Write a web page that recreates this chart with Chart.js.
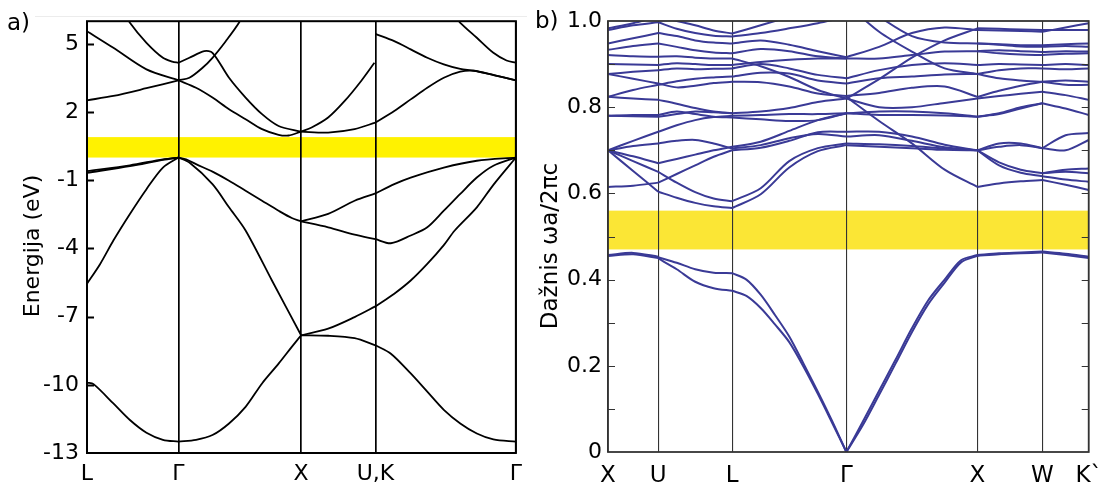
<!DOCTYPE html>
<html>
<head>
<meta charset="utf-8">
<script src="https://cdn.jsdelivr.net/npm/chart.js@4.4.0/dist/chart.umd.min.js"></script>
<style>
body{margin:0;background:#fff;width:1112px;height:491px;overflow:hidden;position:relative;font-family:"DejaVu Sans",sans-serif}
canvas{position:absolute;top:0}
#c1{left:0}
#c2{left:530px}
.lab{position:absolute;font-size:23px;line-height:1;color:#000}
#hair{position:absolute;left:35px;top:16px;width:492px;height:1px;background:#ececec}
</style>
</head>
<body>
<div id="hair"></div>
<canvas id="c1" width="530" height="491"></canvas>
<canvas id="c2" width="582" height="491"></canvas>
<div class="lab" style="left:7px;top:11px">a)</div>
<div class="lab" style="left:535px;top:9px">b)</div>
<script>
var FONT = '"DejaVu Sans", sans-serif';

// ---- a) elektronska pasovna struktura ----
var leftK = [0, 92.3, 216, 291, 432.7];
var leftKLabels = ['L', 'Γ', 'X', 'U,K', 'Γ'];
var leftTicks = [-13, -10, -7, -4, -1, 2, 5];
var leftGap = [0, 0.9];

// valencni pasovi [k, E]
var leftValence = [
  [[0,-9.9],[6.6,-9.97],[26.6,-10.82],[43.3,-11.55],[60,-12.11],[76.6,-12.42],[92.3,-12.5]],
  [[92.3,-12.5],[110,-12.42],[126.6,-12.21],[143.3,-11.7],[160,-10.97],[176.6,-9.94],[193.3,-9.07],[206.6,-8.33],[216,-7.82]],
  [[216,-7.82],[243.3,-7.84],[270,-7.95],[291,-8.26]],
  [[291,-8.26],[306.6,-8.63],[326.6,-9.5],[343.3,-10.3],[360,-11.1],[376.6,-11.7],[393.3,-12.14],[410,-12.4],[432.7,-12.5]],
  [[0,-5.55],[13.3,-4.68],[26.6,-3.65],[43.3,-2.48],[60,-1.39],[76.6,-0.44],[92.3,0]],
  [[92.3,0],[103.3,-0.22],[126.6,-1.17],[143.3,-2.19],[160,-3.21],[186.6,-5.41],[216,-7.82]],
  [[216,-7.82],[243.3,-7.53],[270,-7.02],[291,-6.55]],
  [[291,-6.55],[310,-5.99],[326.6,-5.41],[343.3,-4.68],[360,-3.85],[371,-3.21],[393.3,-2.19],[410,-1.2],[432.7,0]],
  [[0,-0.67],[43.3,-0.38],[76.6,-0.1],[92.3,0]],
  [[0,-0.6],[43.3,-0.34],[76.6,-0.08],[92.3,0]],
  [[92.3,0],[100,-0.08],[110,-0.29],[126.6,-0.62],[143.3,-1.02],[160,-1.46],[176.6,-1.9],[193.3,-2.34],[206.6,-2.66],[216,-2.81]],
  [[216,-2.81],[243.3,-3.07],[270,-3.39],[291,-3.59]],
  [[216,-2.81],[243.3,-2.48],[270,-1.9],[291,-1.58]],
  [[291,-3.59],[306.6,-3.77],[326.6,-3.43],[343.3,-3.07],[360,-2.34],[376.6,-1.6],[393.3,-0.88],[410,-0.36],[432.7,0]],
  [[291,-1.58],[310,-1.17],[326.6,-0.88],[360,-0.44],[393.3,-0.14],[432.7,0]]
];
// prevodni pasovi [k, E]
var leftConduction = [
  [[0,2.52],[26.6,2.71],[60,3.05],[92.3,3.4]],
  [[0,5.56],[26.6,4.83],[60,3.88],[92.3,3.4]],
  [[38,6.4],[43.3,5.93],[60,5.05],[76.6,4.39],[86,4.22],[92.3,4.17]],
  [[92.3,3.4],[110,3.07],[126.6,2.64],[143.3,2.13],[160,1.69],[176.6,1.25],[193.3,1.0],[203.3,0.97],[216,1.14]],
  [[92.3,4.17],[103.3,4.39],[118.3,4.68],[126.6,4.61],[143.3,3.51],[160,2.64],[176.6,1.91],[193.3,1.39],[216,1.14]],
  [[92.3,3.4],[103.3,3.51],[116.6,3.95],[126.6,4.39],[140,5.12],[153.3,5.93],[158,6.4]],
  [[216,1.14],[243.3,1.1],[270,1.25],[291,1.54]],
  [[216,1.14],[226.6,1.32],[243.3,1.76],[260,2.49],[276.6,3.37],[290,4.17]],
  [[291,1.54],[310,2.05],[326.6,2.56],[343.3,3.07],[360,3.51],[376.6,3.78],[390,3.82],[410,3.63],[432.7,3.4]],
  [[291,5.44],[310,5.12],[326.6,4.76],[343.3,4.39],[360,4.1],[376.6,3.9],[390,3.83],[410,3.64],[432.7,3.4]],
  [[366.6,6.4],[376.6,5.93],[393.3,5.27],[410,4.61],[423.3,4.27],[432.7,4.17]]
];

// ---- b) fotonska pasovna struktura ----
var rightK = [0, 51, 126, 242, 375, 441, 488];
var rightKLabels = ['X', 'U', 'L', 'Γ', 'X', 'W', 'K`'];
var rightTicks = [0, 0.1, 0.2, 0.3, 0.4, 0.5, 0.6, 0.7, 0.8, 0.9, 1.0];
var rightTickLabels = ['0', '', '0.2', '', '0.4', '', '0.6', '', '0.8', '', '1.0'];
var rightGap = [0.47, 0.56];

// vrednosti enakomerno vzorcene vzdolz vsakega odseka
var segXU = [
  [0.457,0.462,0.453],[0.455,0.459,0.450],
  [0.615,0.618,0.625],[0.700,0.652,0.604],[0.700,0.675,0.650],[0.700,0.686,0.670],
  [0.700,0.710,0.716],[0.700,0.722,0.743],[0.780,0.779,0.778],[0.780,0.782,0.782],
  [0.824,0.820,0.817],[0.824,0.840,0.852],[0.877,0.866,0.855],[0.877,0.882,0.886],
  [0.900,0.899,0.898],[0.921,0.918,0.917],[0.933,0.942,0.948],[0.948,0.960,0.972],
  [0.979,0.990,0.997],[0.983,0.995,1.01]
];
var segUL = [
  [0.452,0.439,0.424,0.416,0.415],[0.449,0.424,0.395,0.380,0.374],
  [0.604,0.590,0.578,0.570,0.566],[0.650,0.625,0.603,0.588,0.582],
  [0.625,0.645,0.665,0.685,0.700],[0.670,0.680,0.690,0.700,0.708],
  [0.716,0.722,0.724,0.716,0.704],[0.743,0.758,0.770,0.777,0.780],
  [0.778,0.784,0.790,0.788,0.786],[0.782,0.790,0.784,0.778,0.776],
  [0.817,0.808,0.798,0.790,0.786],[0.852,0.860,0.866,0.869,0.871],
  [0.855,0.846,0.850,0.856,0.859],[0.886,0.890,0.888,0.889,0.890],
  [0.898,0.902,0.900,0.898,0.898],[0.917,0.918,0.915,0.913,0.913],
  [0.948,0.940,0.932,0.927,0.925],[0.972,0.965,0.955,0.950,0.948],
  [0.997,0.982,0.972,0.966,0.964],[1.01,1.0,0.99,0.978,0.971]
];
var segLG = [
  [0.415,0.400,0.365,0.318,0.268,0.205,0.140,0.072,0.0],
  [0.374,0.362,0.334,0.296,0.255,0.198,0.135,0.068,0.0],
  [0.566,0.598,0.660,0.698,0.712],[0.582,0.612,0.675,0.705,0.716],
  [0.700,0.706,0.722,0.742,0.743],[0.704,0.712,0.728,0.738,0.732],
  [0.708,0.720,0.745,0.770,0.786],[0.776,0.772,0.768,0.770,0.786],
  [0.780,0.782,0.784,0.784,0.786],[0.786,0.790,0.798,0.812,0.820],
  [0.859,0.858,0.848,0.832,0.826],[0.871,0.880,0.878,0.862,0.855],
  [0.890,0.900,0.890,0.875,0.867],[0.898,0.905,0.910,0.913,0.913],
  [0.913,0.895,0.870,0.840,0.820],[0.925,0.935,0.930,0.918,0.913],
  [0.948,0.955,0.945,0.930,0.916],[0.964,0.972,0.983,0.995,1.01],
  [0.971,0.990,1.01,1.03,1.05]
];
var segGX = [
  [0,0.070,0.142,0.214,0.287,0.352,0.400,0.445,0.457],
  [0,0.062,0.133,0.205,0.278,0.343,0.393,0.440,0.455],
  [0.712,0.708,0.705,0.701,0.700],[0.716,0.714,0.710,0.704,0.700],
  [0.732,0.735,0.722,0.707,0.700],[0.743,0.743,0.732,0.713,0.700],
  [0.824,0.768,0.716,0.655,0.615],[0.786,0.790,0.790,0.786,0.778],
  [0.786,0.782,0.782,0.781,0.778],[0.820,0.800,0.800,0.810,0.820],
  [0.826,0.833,0.845,0.848,0.824],[0.855,0.867,0.871,0.876,0.877],
  [0.867,0.886,0.898,0.902,0.898],[0.913,0.913,0.921,0.929,0.930],
  [1.04,0.975,0.929,0.890,0.877],[1.06,1.01,0.965,0.950,0.948],
  [0.916,0.940,0.972,0.985,0.979],[0.820,0.865,0.915,0.955,0.983]
];
var segXW = [
  [0.457,0.461,0.463,0.465],[0.455,0.459,0.461,0.463],
  [0.615,0.623,0.628,0.631],[0.700,0.672,0.655,0.647],[0.700,0.665,0.648,0.640],
  [0.700,0.716,0.716,0.705],[0.700,0.708,0.712,0.705],[0.778,0.786,0.800,0.809],
  [0.778,0.784,0.797,0.809],[0.820,0.826,0.831,0.836],[0.824,0.838,0.850,0.859],
  [0.877,0.867,0.862,0.859],[0.877,0.886,0.890,0.890],[0.898,0.900,0.899,0.898],
  [0.930,0.925,0.922,0.921],[0.930,0.932,0.930,0.928],[0.948,0.946,0.944,0.944],
  [0.948,0.945,0.941,0.940],[0.979,0.978,0.977,0.975],[0.983,0.982,0.980,0.979]
];
var segWK = [
  [0.465,0.460,0.453],[0.463,0.457,0.450],
  [0.631,0.620,0.608],[0.640,0.632,0.627],[0.647,0.650,0.647],[0.647,0.655,0.658],
  [0.705,0.700,0.724],[0.705,0.735,0.740],[0.809,0.797,0.782],[0.836,0.828,0.817],
  [0.859,0.862,0.859],[0.859,0.852,0.852],[0.890,0.888,0.890],[0.898,0.900,0.898],
  [0.921,0.924,0.925],[0.928,0.930,0.929],[0.940,0.942,0.940],[0.944,0.946,0.948],
  [0.975,0.985,0.995],[0.979,0.979,0.979]
];
var rightSegments = [segXU, segUL, segLG, segGX, segXW, segWK];

// okvir, notranje oznake, naslov osi in pas prepovedanih energij
var framePlugin = {
  id: 'frame',
  beforeDraw: function(chart, args, o) {
    var ctx = chart.ctx, a = chart.chartArea, y = chart.scales.y;
    var y1 = y.getPixelForValue(o.gap[1]), y0 = y.getPixelForValue(o.gap[0]);
    ctx.save();
    ctx.fillStyle = o.gapColor;
    ctx.fillRect(a.left, y1, a.right - a.left, y0 - y1);
    ctx.restore();
  },
  afterDatasetsDraw: function(chart, args, o) {
    var ctx = chart.ctx, a = chart.chartArea, y = chart.scales.y;
    ctx.save();
    ctx.strokeStyle = o.color;
    ctx.lineWidth = o.tickWidth;
    ctx.beginPath();
    o.ticks.forEach(function(v) {
      var p = Math.round(y.getPixelForValue(v)) + 0.5;
      ctx.moveTo(a.left, p); ctx.lineTo(a.left + o.tickLen, p);
      if (o.right) { ctx.moveTo(a.right, p); ctx.lineTo(a.right - o.tickLen, p); }
    });
    ctx.stroke();
    ctx.lineWidth = o.width;
    ctx.strokeRect(a.left, a.top, a.right - a.left, a.bottom - a.top);
    // naslov y osi
    ctx.translate(o.title.x, o.title.y);
    ctx.rotate(-Math.PI / 2);
    ctx.fillStyle = '#000';
    ctx.font = o.title.size + 'px ' + FONT;
    ctx.textAlign = 'center';
    ctx.textBaseline = 'alphabetic';
    ctx.fillText(o.title.text, 0, 0);
    ctx.restore();
  }
};

function line(pts, color, w) {
  return {data: pts, borderColor: color, borderWidth: w, pointRadius: 0, tension: 0.3, fill: false};
}

var leftSets = [];
leftValence.concat(leftConduction).forEach(function(b) {
  leftSets.push(line(b.map(function(p) { return {x: p[0], y: p[1]}; }), '#000', 1.8));
});

var rightSets = [];
rightSegments.forEach(function(seg, s) {
  var k0 = rightK[s], k1 = rightK[s + 1];
  seg.forEach(function(vals) {
    var pts = vals.map(function(v, i) { return {x: k0 + i * (k1 - k0) / (vals.length - 1), y: v}; });
    rightSets.push(line(pts, '#3a3a96', 2));
  });
});

new Chart(document.getElementById('c1'), {
  type: 'line',
  data: {datasets: leftSets},
  plugins: [framePlugin],
  options: {
    responsive: false, animation: false, events: [],
    layout: {padding: {left: 0, right: 10, top: 20, bottom: 0}},
    plugins: {
      legend: {display: false}, tooltip: {enabled: false},
      frame: {gap: leftGap, gapColor: '#fff200', color: '#000', width: 2, tickLen: 7, tickWidth: 2,
        ticks: leftTicks.slice(1), right: false,
        title: {text: 'Energija (eV)', x: 39, y: 246, size: 22}}
    },
    scales: {
      x: {
        type: 'linear', min: 0, max: 432.7,
        afterBuildTicks: function(s) { s.ticks = leftK.map(function(v) { return {value: v}; }); },
        afterFit: function(s) { s.height = 38; },
        ticks: {autoSkip: false, maxRotation: 0, padding: 8, color: '#000', font: {size: 22, family: FONT},
          callback: function(v, i) { return leftKLabels[i]; }},
        grid: {color: '#000', lineWidth: 1.7, drawTicks: false},
        border: {display: false}
      },
      y: {
        type: 'linear', min: -13, max: 6,
        afterBuildTicks: function(s) { s.ticks = leftTicks.map(function(v) { return {value: v}; }); },
        afterFit: function(s) { s.width = 87; },
        ticks: {padding: 8, color: '#000', font: {size: 22, family: FONT},
          callback: function(v) { return String(v); }},
        grid: {display: false, drawTicks: false},
        border: {display: false}
      }
    }
  }
});

new Chart(document.getElementById('c2'), {
  type: 'line',
  data: {datasets: rightSets},
  plugins: [framePlugin],
  options: {
    responsive: false, animation: false, events: [],
    layout: {padding: {left: 0, right: 16, top: 21, bottom: 0}},
    plugins: {
      legend: {display: false}, tooltip: {enabled: false},
      frame: {gap: rightGap, gapColor: '#fbe635', color: '#333', width: 1.8, tickLen: 7, tickWidth: 1.2,
        ticks: rightTicks.slice(1, 10), right: true,
        title: {text: 'Dažnis ωa/2πc', x: 27, y: 246, size: 23}}
    },
    scales: {
      x: {
        type: 'linear', min: 0, max: 488,
        afterBuildTicks: function(s) { s.ticks = rightK.map(function(v) { return {value: v}; }); },
        afterFit: function(s) { s.height = 39; },
        ticks: {autoSkip: false, maxRotation: 0, padding: 10, color: '#000', font: {size: 23, family: FONT},
          callback: function(v, i) { return rightKLabels[i]; }},
        grid: {color: '#333', lineWidth: 1.1, drawTicks: false},
        border: {display: false}
      },
      y: {
        type: 'linear', min: 0, max: 1,
        afterBuildTicks: function(s) { s.ticks = rightTicks.map(function(v) { return {value: v}; }); },
        afterFit: function(s) { s.width = 78; },
        ticks: {padding: 6, color: '#000', font: {size: 22, family: FONT},
          callback: function(v, i) { return rightTickLabels[i]; }},
        grid: {display: false, drawTicks: false},
        border: {display: false}
      }
    }
  }
});
</script>
</body>
</html>
